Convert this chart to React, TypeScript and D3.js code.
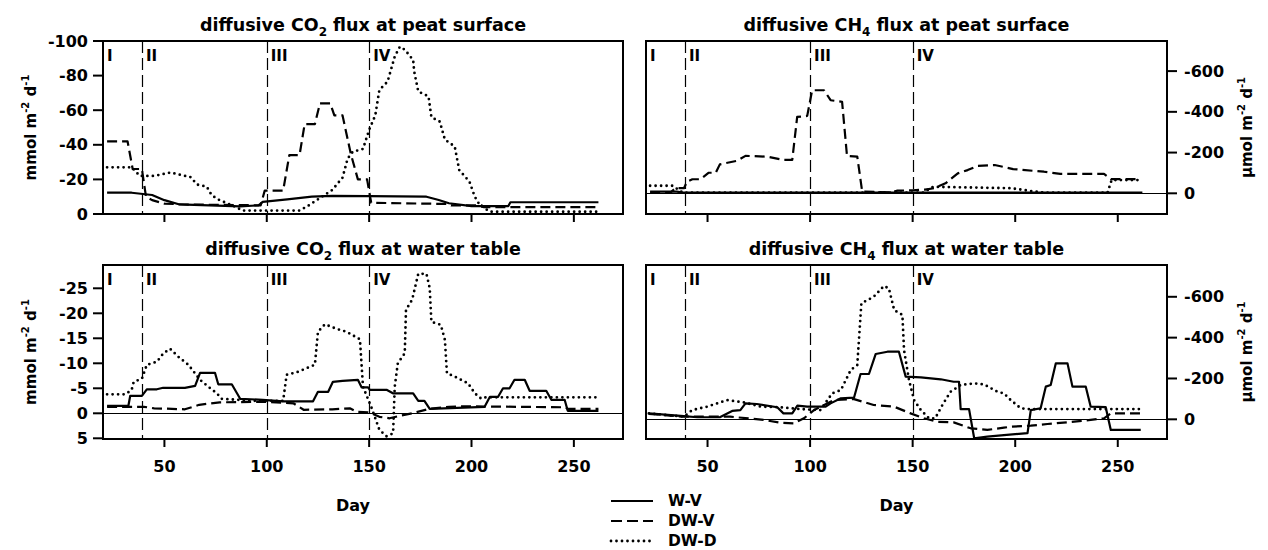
import React from "react";
import * as d3 from "d3";

type Pt = [number, number];

// ---------- data (day, flux) ----------
const DAY_TICKS = [50, 100, 150, 200, 250];
const PHASES = [39, 100, 150];
const PHASE_LABELS = ["I", "II", "III", "IV"];
const PHASE_LABEL_DAYS = [20, 39, 100, 150];
const SERIES_NAMES = ["W-V", "DW-V", "DW-D"];

const CO2_SURF_TICKS = [0, -20, -40, -60, -80, -100];
const CH4_TICKS = [0, -200, -400, -600];
const CO2_WT_TICKS = [5, 0, -5, -10, -15, -20, -25];

const CO2_SURF_WV: Pt[] = [[22,-12.3],[34,-12.3],[44,-11],[50,-8],[57,-5.6],[87,-4.4],[96,-5],[98,-7],[110,-8.5],[122,-10],[132,-10.5],[150,-10.3],[178,-10],[184,-8.1],[189,-6.2],[200,-4.6],[218,-4.6],[219,-6.8],[262,-6.8]];
const CO2_SURF_DWV: Pt[] = [[22,-42],[32,-42],[34.5,-26],[39,-26],[41,-10],[44,-8],[50,-6],[60,-5.5],[97,-5],[99,-13.5],[108,-13.5],[111,-34],[116,-34],[118.5,-52],[123.5,-52],[126,-64],[131,-64],[133,-57],[137,-57],[141,-35],[144.5,-20],[149,-20],[151,-6.5],[188,-5.8],[190,-5],[205,-5],[206,-4],[262,-4]];
const CO2_SURF_DWD: Pt[] = [[22,-27],[34,-27],[38,-22],[45,-22],[53,-24],[60,-22],[62.5,-21.6],[66,-17],[70.7,-15.8],[73,-11],[76,-8.5],[85,-4],[88,-2],[116,-2],[120,-4.6],[124,-7.7],[132,-13.9],[137,-21],[139.5,-32],[142,-36],[147,-37.6],[150,-48.6],[153,-57],[155,-71.7],[159,-76.5],[162.5,-91],[165,-96.7],[167.4,-95],[171.5,-89],[172,-82.4],[174,-70.8],[179,-68],[180.4,-56],[184.5,-53.4],[187,-43],[191.8,-39],[194,-25.4],[199,-18.7],[201.6,-10],[204,-5.2],[209,-1.3],[262,-1.3]];

const CH4_SURF_WV: Pt[] = [[22,-8],[35,-8],[38,-3],[262,-3]];
const CH4_SURF_DWV: Pt[] = [[22,-3],[32,-5],[34.5,-26],[38.5,-25],[40,-57],[42.6,-69],[46.6,-69],[50.6,-101],[54,-101],[56,-142],[64.5,-160],[68.5,-184],[79,-180],[87,-164],[91.3,-164],[93.7,-375],[98.6,-380],[101,-506],[106.8,-506],[110,-457],[115.6,-449],[118,-183],[123,-180],[125.4,-8],[140,-5],[142.6,-13],[150,-15],[156,-18],[160.5,-25],[166,-49],[172,-98],[176.8,-114],[181.7,-135],[190,-139],[199,-119],[214,-106],[222,-95],[243.3,-95],[246.6,-70],[261,-70]];
const CH4_SURF_DWD: Pt[] = [[22,-37],[33,-37],[38,-3],[155,-3],[160,-32],[198,-25],[210,-8],[215,-3],[245,-3],[247,-65],[262,-65]];

const CO2_WT_WV: Pt[] = [[22,-1.5],[32.4,-1.5],[33.3,-3.5],[39,-3.5],[41.4,-4.8],[46.3,-4.8],[49.4,-5.1],[60,-5.1],[65,-5.5],[67.4,-8.1],[74.7,-8.1],[76.3,-5.8],[82.9,-5.8],[87,-2.9],[98,-2.7],[108,-2.4],[122.6,-2.4],[125,-4.3],[130,-4.3],[132.3,-6.3],[137,-6.5],[144.5,-6.7],[146.3,-5.2],[149.5,-5.2],[150.3,-4.7],[158.5,-4.7],[161.6,-4],[171.5,-4],[174,-2.5],[177,-2.5],[179.6,-0.9],[206.4,-1.3],[209,-3.3],[213,-3.3],[215.4,-5],[218.6,-5],[221,-6.7],[226,-6.7],[228.4,-4.5],[236.5,-4.5],[239,-2.7],[245.5,-2.7],[247,-0.5],[262,-0.5]];
const CO2_WT_DWV: Pt[] = [[22,-1.3],[40,-1.3],[45,-1.0],[60,-0.8],[67,-1.7],[77,-2.2],[100,-2.3],[113,-2],[118,-0.7],[132,-0.8],[140.6,-1.0],[144,-0.3],[150,-0.2],[155,0.7],[160,1.0],[165,0.5],[171,0],[179.6,-0.9],[189,-1.3],[197.5,-1.4],[246,-1.2],[247,-0.9],[262,-0.9]];
const CO2_WT_DWD: Pt[] = [[22,-3.8],[31,-3.8],[34,-4.7],[35,-6.3],[39,-6.9],[41.4,-9.7],[46.3,-10.3],[49.5,-12],[52.8,-12.9],[56.8,-11.3],[61.7,-9.7],[67.4,-6.7],[71.5,-5.3],[75.6,-4],[78,-2.9],[93.3,-2.5],[108,-2.5],[109.7,-7.7],[114.6,-8.2],[123.5,-9.7],[125,-16.3],[128.4,-17.8],[134,-16.9],[139,-16.3],[145.5,-14.8],[147,-5.3],[151,-1.3],[155,3.3],[158.5,4.6],[161.7,4],[162.5,-5.3],[164,-10],[167.4,-12],[168,-20.7],[171,-22.7],[174,-27.9],[178,-27.9],[179.6,-25],[180.4,-18.3],[185,-17.7],[187,-14.7],[188,-8],[192,-7.3],[198.3,-6],[201.6,-4],[204.8,-2.9],[207,-3.2],[262,-3.2]];

const CH4_WT_WV: Pt[] = [[21.4,-29],[38.4,-16],[45,-10],[56,-10],[62,-41],[66,-45],[68.5,-78],[74,-75],[84,-59],[87,-29],[91.3,-29],[93.8,-67],[98.6,-62],[107.6,-62],[110,-78],[115,-103],[121.4,-106],[124.6,-222],[128.7,-222],[132,-320],[137.7,-331],[143.3,-331],[146.6,-209],[154,-205],[163.7,-196],[170,-184],[172.6,-184],[173.4,-50],[177.5,-50],[180,93],[186.4,85],[194.5,77],[206,68],[207.6,-45],[212.4,-54],[214.9,-160],[217.3,-168],[219.8,-274],[225.5,-274],[227.9,-160],[234.4,-160],[236.8,-62],[244.1,-60],[246.6,52],[261.2,52]];
const CH4_WT_DWV: Pt[] = [[21.4,-26],[38.4,-13],[61,-13],[77.5,3],[85.6,17],[92,20],[97,-5],[101.9,-45],[111.6,-94],[121.4,-99],[131,-70],[140.9,-62],[149,-29],[155.5,-5],[162,12],[170,15],[178.3,44],[186.4,52],[194.5,41],[197.8,36],[207.6,31],[215.7,23],[233.6,7],[243.3,-5],[246.6,-29],[261.2,-29]];
const CH4_WT_DWD: Pt[] = [[21.4,-29],[38.4,-13],[42.5,-45],[49.8,-62],[59.6,-94],[67.7,-83],[75.9,-62],[85.6,-59],[95.4,-50],[105,-45],[110.8,-127],[115,-143],[119.8,-241],[123,-266],[125,-568],[131,-600],[136,-653],[138.4,-641],[141,-535],[145,-511],[145.8,-339],[148.2,-193],[150.7,-94],[154,-45],[158,-5],[161,-5],[164.5,-70],[168.5,-135],[173.4,-168],[180,-176],[184.8,-171],[191.3,-135],[194.5,-127],[197.8,-94],[202.7,-54],[207,-50],[261,-50]];

// ---------- layout ----------
const FONT = "'DejaVu Sans', 'Liberation Sans', Arial, sans-serif";
const STYLES = [
  { dash: undefined as string | undefined, width: 2.2, cap: "butt" as const },
  { dash: "10,5", width: 2.2, cap: "butt" as const },
  { dash: "0,5.5", width: 2.8, cap: "round" as const },
];

type PanelDef = {
  title: [string, string, string];
  x0: number; x1: number; y0: number; y1: number;
  yDomain: [number, number];
  ticks: number[];
  side: "left" | "right";
  zero: boolean;
  series: Pt[][];
  xLabels: boolean;
};

const PANELS: PanelDef[] = [
  { title: ["diffusive CO", "2", " flux at peat surface"], x0: 103, x1: 623, y0: 41, y1: 214, yDomain: [0, -100], ticks: CO2_SURF_TICKS, side: "left", zero: false, series: [CO2_SURF_WV, CO2_SURF_DWV, CO2_SURF_DWD], xLabels: false },
  { title: ["diffusive CH", "4", " flux at peat surface"], x0: 646, x1: 1167, y0: 41, y1: 214, yDomain: [101.6, -747.8], ticks: CH4_TICKS, side: "right", zero: true, series: [CH4_SURF_WV, CH4_SURF_DWV, CH4_SURF_DWD], xLabels: false },
  { title: ["diffusive CO", "2", " flux at water table"], x0: 103, x1: 623, y0: 265, y1: 439, yDomain: [5.14, -29.66], ticks: CO2_WT_TICKS, side: "left", zero: true, series: [CO2_WT_WV, CO2_WT_DWV, CO2_WT_DWD], xLabels: true },
  { title: ["diffusive CH", "4", " flux at water table"], x0: 646, x1: 1167, y0: 265, y1: 439, yDomain: [96.4, -755.7], ticks: CH4_TICKS, side: "right", zero: true, series: [CH4_WT_WV, CH4_WT_DWV, CH4_WT_DWD], xLabels: true },
];

function Panel({ p }: { p: PanelDef }) {
  const x = d3.scaleLinear().domain([20, 274]).range([p.x0, p.x1]);
  const y = d3.scaleLinear().domain(p.yDomain).range([p.y1, p.y0]);
  const line = d3.line<Pt>().x((d) => x(d[0])).y((d) => y(d[1]));
  const cx = (p.x0 + p.x1) / 2;
  const yMid = (p.y0 + p.y1) / 2;
  const unit = p.side === "left" ? "mmol" : "\u00b5mol";
  const axisTitleX = p.side === "left" ? 36 : 1252;
  return (
    <g>
      <text x={cx} y={p.y0 - 10} textAnchor="middle" fontSize={17.5} fontWeight="bold" fontFamily={FONT}>
        {p.title[0]}
        <tspan dy={5} fontSize={12}>{p.title[1]}</tspan>
        <tspan dy={-5}>{p.title[2]}</tspan>
      </text>
      <defs>
        <clipPath id={`clip-${p.x0}-${p.y0}`}>
          <rect x={p.x0} y={p.y0} width={p.x1 - p.x0} height={p.y1 - p.y0} />
        </clipPath>
      </defs>
      {PHASES.map((d) => {
        const px = Math.round(x(d)) + 0.5;
        return <line key={d} x1={px} x2={px} y1={p.y0} y2={p.y1} stroke="#000" strokeWidth={1.2} strokeDasharray="12,5" />;
      })}
      {PHASE_LABELS.map((t, i) => (
        <text key={t} x={x(PHASE_LABEL_DAYS[i]) + 4} y={p.y0 + 20} fontSize={15} fontWeight="bold" fontFamily={FONT}>{t}</text>
      ))}
      {p.zero && <line x1={p.x0} x2={p.x1} y1={Math.round(y(0)) + 0.5} y2={Math.round(y(0)) + 0.5} stroke="#000" strokeWidth={1} />}
      <g clipPath={`url(#clip-${p.x0}-${p.y0})`}>
        {p.series.map((s, i) => (
          <path key={i} d={line(s) || ""} fill="none" stroke="#000" strokeWidth={STYLES[i].width}
            strokeDasharray={STYLES[i].dash} strokeLinecap={STYLES[i].cap} strokeLinejoin="round" />
        ))}
      </g>
      <rect x={p.x0} y={p.y0} width={p.x1 - p.x0} height={p.y1 - p.y0} fill="none" stroke="#000" strokeWidth={2} />
      {DAY_TICKS.map((d) => (
        <g key={d}>
          <line x1={x(d)} x2={x(d)} y1={p.y1} y2={p.y1 + 8} stroke="#000" strokeWidth={2} />
          {p.xLabels && (
            <text x={x(d)} y={p.y1 + 27} textAnchor="middle" dominantBaseline="central" fontSize={16} fontWeight="bold" fontFamily={FONT}>{d}</text>
          )}
        </g>
      ))}
      {p.ticks.map((t) => {
        const ty = y(t);
        const left = p.side === "left";
        const xe = left ? p.x0 : p.x1;
        return (
          <g key={t}>
            <line x1={xe} x2={left ? xe - 10 : xe + 10} y1={ty} y2={ty} stroke="#000" strokeWidth={2} />
            <text x={left ? xe - 15 : xe + 17} y={ty} textAnchor={left ? "end" : "start"} dominantBaseline="central"
              fontSize={16} fontWeight="bold" fontFamily={FONT}>{t}</text>
          </g>
        );
      })}
      <text transform={`translate(${axisTitleX},${yMid}) rotate(-90)`} textAnchor="middle" fontSize={15} fontWeight="bold" fontFamily={FONT}>
        {unit} m<tspan dy={-7} fontSize={10}>-2</tspan><tspan dy={7}> d</tspan><tspan dy={-7} fontSize={10}>-1</tspan>
      </text>
      {p.xLabels && (
        <text x={cx - 10} y={505} textAnchor="middle" dominantBaseline="central" fontSize={16} fontWeight="bold" fontFamily={FONT}>Day</text>
      )}
    </g>
  );
}

export default function App() {
  const legendY = [501, 521, 541];
  return (
    <svg width={1268} height={550} style={{ position: "absolute", left: 0, top: 0, background: "#fff" }}>
      <rect x={0} y={0} width={1268} height={550} fill="#fff" />
      {PANELS.map((p, i) => <Panel key={i} p={p} />)}
      {SERIES_NAMES.map((n, i) => (
        <g key={n}>
          <line x1={611} x2={653} y1={legendY[i]} y2={legendY[i]} stroke="#000" strokeWidth={STYLES[i].width}
            strokeDasharray={STYLES[i].dash === "10,5" ? "11,5" : STYLES[i].dash} strokeLinecap={STYLES[i].cap} />
          <text x={668} y={legendY[i]} dominantBaseline="central" fontSize={15.5} fontWeight="bold" fontFamily={FONT}>{n}</text>
        </g>
      ))}
    </svg>
  );
}
